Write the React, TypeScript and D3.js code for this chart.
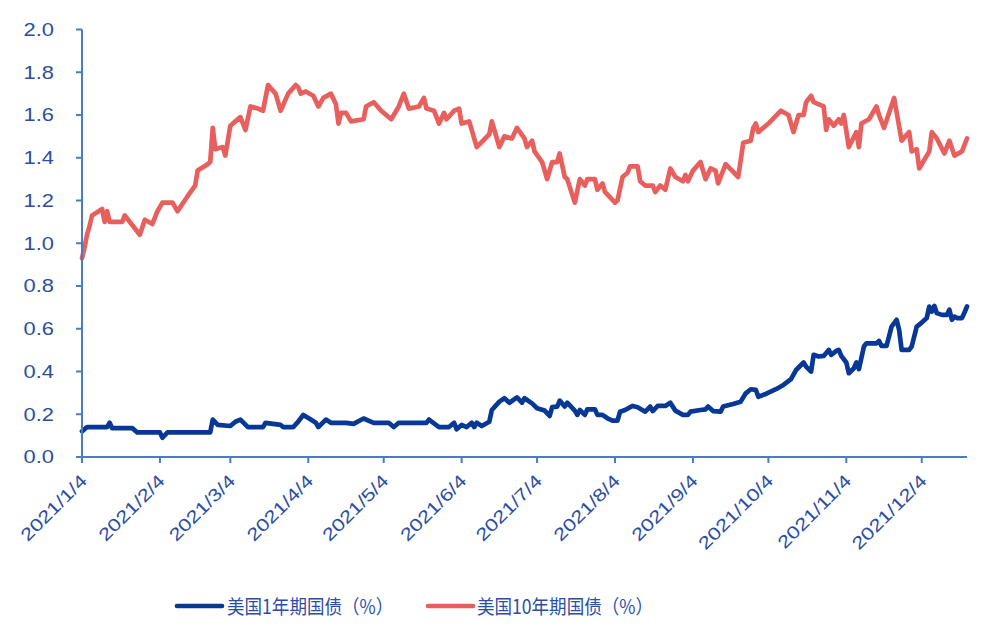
import React from "react";
import * as d3 from "d3";

const treasury10Y: [string, number][] = [
  ["2021-01-04", 0.93], ["2021-01-05", 0.98], ["2021-01-06", 1.04], ["2021-01-07", 1.08],
  ["2021-01-08", 1.13], ["2021-01-12", 1.16], ["2021-01-13", 1.10], ["2021-01-14", 1.15],
  ["2021-01-15", 1.10], ["2021-01-20", 1.10], ["2021-01-21", 1.13], ["2021-01-25", 1.07],
  ["2021-01-27", 1.04], ["2021-01-29", 1.11], ["2021-02-01", 1.09], ["2021-02-03", 1.15],
  ["2021-02-05", 1.19], ["2021-02-09", 1.19], ["2021-02-11", 1.15], ["2021-02-15", 1.22],
  ["2021-02-18", 1.27], ["2021-02-19", 1.34], ["2021-02-23", 1.37], ["2021-02-24", 1.38],
  ["2021-02-25", 1.54], ["2021-02-26", 1.44], ["2021-03-01", 1.45], ["2021-03-02", 1.41],
  ["2021-03-04", 1.55], ["2021-03-06", 1.57], ["2021-03-08", 1.59], ["2021-03-10", 1.53],
  ["2021-03-12", 1.64], ["2021-03-15", 1.63], ["2021-03-17", 1.62], ["2021-03-19", 1.74],
  ["2021-03-22", 1.70], ["2021-03-24", 1.62], ["2021-03-27", 1.70], ["2021-03-30", 1.74],
  ["2021-03-31", 1.73], ["2021-04-01", 1.70], ["2021-04-03", 1.71], ["2021-04-06", 1.69],
  ["2021-04-08", 1.64], ["2021-04-10", 1.68], ["2021-04-13", 1.70], ["2021-04-15", 1.65],
  ["2021-04-16", 1.56], ["2021-04-17", 1.61], ["2021-04-19", 1.61], ["2021-04-21", 1.57],
  ["2021-04-26", 1.58], ["2021-04-27", 1.64], ["2021-04-30", 1.66], ["2021-05-03", 1.62],
  ["2021-05-07", 1.58], ["2021-05-10", 1.64], ["2021-05-12", 1.70], ["2021-05-14", 1.63],
  ["2021-05-18", 1.64], ["2021-05-20", 1.68], ["2021-05-21", 1.63], ["2021-05-24", 1.62],
  ["2021-05-26", 1.56], ["2021-05-28", 1.61], ["2021-05-29", 1.58], ["2021-06-01", 1.62],
  ["2021-06-03", 1.63], ["2021-06-04", 1.56], ["2021-06-07", 1.57], ["2021-06-10", 1.45],
  ["2021-06-15", 1.51], ["2021-06-16", 1.57], ["2021-06-19", 1.45], ["2021-06-21", 1.50],
  ["2021-06-24", 1.49], ["2021-06-26", 1.54], ["2021-06-29", 1.49], ["2021-06-30", 1.45],
  ["2021-07-02", 1.48], ["2021-07-03", 1.43], ["2021-07-06", 1.38], ["2021-07-08", 1.30],
  ["2021-07-10", 1.38], ["2021-07-12", 1.38], ["2021-07-13", 1.42], ["2021-07-15", 1.31],
  ["2021-07-16", 1.30], ["2021-07-19", 1.19], ["2021-07-21", 1.30], ["2021-07-23", 1.27],
  ["2021-07-24", 1.30], ["2021-07-27", 1.30], ["2021-07-28", 1.25], ["2021-07-30", 1.28],
  ["2021-07-31", 1.24], ["2021-08-04", 1.19], ["2021-08-05", 1.20], ["2021-08-07", 1.31],
  ["2021-08-09", 1.33], ["2021-08-10", 1.36], ["2021-08-13", 1.36], ["2021-08-14", 1.29],
  ["2021-08-16", 1.27], ["2021-08-19", 1.27], ["2021-08-20", 1.24], ["2021-08-22", 1.27],
  ["2021-08-24", 1.25], ["2021-08-26", 1.35], ["2021-08-28", 1.31], ["2021-08-31", 1.29],
  ["2021-09-01", 1.32], ["2021-09-02", 1.29], ["2021-09-04", 1.34], ["2021-09-07", 1.38],
  ["2021-09-09", 1.30], ["2021-09-11", 1.35], ["2021-09-13", 1.34], ["2021-09-14", 1.28],
  ["2021-09-17", 1.37], ["2021-09-22", 1.31], ["2021-09-24", 1.47], ["2021-09-27", 1.48],
  ["2021-09-28", 1.54], ["2021-09-29", 1.56], ["2021-09-30", 1.52], ["2021-10-04", 1.56],
  ["2021-10-09", 1.62], ["2021-10-12", 1.60], ["2021-10-14", 1.52], ["2021-10-16", 1.60],
  ["2021-10-18", 1.60], ["2021-10-19", 1.66], ["2021-10-21", 1.69], ["2021-10-22", 1.66],
  ["2021-10-26", 1.64], ["2021-10-27", 1.53], ["2021-10-28", 1.58], ["2021-10-30", 1.55],
  ["2021-11-01", 1.58], ["2021-11-02", 1.56], ["2021-11-03", 1.60], ["2021-11-05", 1.45],
  ["2021-11-08", 1.52], ["2021-11-09", 1.45], ["2021-11-10", 1.56], ["2021-11-13", 1.58],
  ["2021-11-16", 1.64], ["2021-11-17", 1.60], ["2021-11-19", 1.54], ["2021-11-23", 1.68],
  ["2021-11-26", 1.48], ["2021-11-29", 1.52], ["2021-11-30", 1.43], ["2021-12-02", 1.44],
  ["2021-12-03", 1.35], ["2021-12-07", 1.43], ["2021-12-08", 1.52], ["2021-12-10", 1.49],
  ["2021-12-13", 1.42], ["2021-12-15", 1.48], ["2021-12-17", 1.41], ["2021-12-20", 1.43],
  ["2021-12-22", 1.49],
];

const treasury1Y: [string, number][] = [
  ["2021-01-04", 0.12], ["2021-01-06", 0.14], ["2021-01-14", 0.14], ["2021-01-15", 0.16],
  ["2021-01-16", 0.135], ["2021-01-24", 0.135], ["2021-01-26", 0.115], ["2021-02-04", 0.115],
  ["2021-02-05", 0.09], ["2021-02-07", 0.115], ["2021-02-24", 0.115], ["2021-02-25", 0.175],
  ["2021-02-27", 0.15], ["2021-03-04", 0.145], ["2021-03-06", 0.165], ["2021-03-08", 0.175],
  ["2021-03-11", 0.14], ["2021-03-17", 0.14], ["2021-03-18", 0.16], ["2021-03-24", 0.15],
  ["2021-03-25", 0.14], ["2021-03-29", 0.14], ["2021-03-31", 0.165], ["2021-04-02", 0.197],
  ["2021-04-05", 0.175], ["2021-04-07", 0.16], ["2021-04-08", 0.14], ["2021-04-11", 0.175],
  ["2021-04-13", 0.16], ["2021-04-19", 0.16], ["2021-04-22", 0.155], ["2021-04-26", 0.18],
  ["2021-04-30", 0.16], ["2021-05-06", 0.16], ["2021-05-08", 0.14], ["2021-05-10", 0.16],
  ["2021-05-21", 0.16], ["2021-05-22", 0.175], ["2021-05-26", 0.14], ["2021-05-30", 0.14],
  ["2021-06-01", 0.16], ["2021-06-02", 0.13], ["2021-06-04", 0.15], ["2021-06-06", 0.14],
  ["2021-06-08", 0.16], ["2021-06-09", 0.14], ["2021-06-10", 0.16], ["2021-06-12", 0.145],
  ["2021-06-15", 0.165], ["2021-06-16", 0.22], ["2021-06-19", 0.259], ["2021-06-21", 0.275],
  ["2021-06-23", 0.254], ["2021-06-26", 0.279], ["2021-06-28", 0.254], ["2021-06-29", 0.275],
  ["2021-07-02", 0.251], ["2021-07-04", 0.228], ["2021-07-07", 0.217], ["2021-07-09", 0.192],
  ["2021-07-10", 0.233], ["2021-07-12", 0.236], ["2021-07-13", 0.264], ["2021-07-15", 0.236],
  ["2021-07-16", 0.254], ["2021-07-19", 0.217], ["2021-07-20", 0.197], ["2021-07-21", 0.22],
  ["2021-07-23", 0.197], ["2021-07-24", 0.223], ["2021-07-27", 0.223], ["2021-07-28", 0.197],
  ["2021-07-30", 0.197], ["2021-08-01", 0.181], ["2021-08-03", 0.17], ["2021-08-05", 0.17],
  ["2021-08-06", 0.212], ["2021-08-08", 0.22], ["2021-08-11", 0.239], ["2021-08-13", 0.233],
  ["2021-08-16", 0.212], ["2021-08-18", 0.236], ["2021-08-19", 0.215], ["2021-08-21", 0.239],
  ["2021-08-24", 0.239], ["2021-08-26", 0.254], ["2021-08-28", 0.217], ["2021-08-31", 0.197],
  ["2021-09-02", 0.197], ["2021-09-03", 0.212], ["2021-09-07", 0.22], ["2021-09-09", 0.223],
  ["2021-09-10", 0.236], ["2021-09-12", 0.215], ["2021-09-15", 0.212], ["2021-09-16", 0.236],
  ["2021-09-20", 0.248], ["2021-09-23", 0.259], ["2021-09-25", 0.298], ["2021-09-27", 0.317],
  ["2021-09-29", 0.314], ["2021-09-30", 0.282], ["2021-10-03", 0.295], ["2021-10-07", 0.317],
  ["2021-10-10", 0.337], ["2021-10-13", 0.364], ["2021-10-15", 0.407], ["2021-10-18", 0.442],
  ["2021-10-19", 0.423], ["2021-10-21", 0.40], ["2021-10-22", 0.478], ["2021-10-24", 0.47],
  ["2021-10-26", 0.473], ["2021-10-28", 0.501], ["2021-10-29", 0.478], ["2021-10-31", 0.496],
  ["2021-11-01", 0.501], ["2021-11-02", 0.473], ["2021-11-04", 0.442], ["2021-11-05", 0.392],
  ["2021-11-07", 0.415], ["2021-11-08", 0.442], ["2021-11-09", 0.411], ["2021-11-11", 0.517],
  ["2021-11-12", 0.532], ["2021-11-16", 0.532], ["2021-11-17", 0.543], ["2021-11-18", 0.52],
  ["2021-11-20", 0.52], ["2021-11-22", 0.61], ["2021-11-24", 0.642], ["2021-11-25", 0.595],
  ["2021-11-26", 0.501], ["2021-11-29", 0.501], ["2021-11-30", 0.517], ["2021-12-02", 0.61],
  ["2021-12-04", 0.629], ["2021-12-06", 0.65], ["2021-12-07", 0.704], ["2021-12-08", 0.68],
  ["2021-12-09", 0.707], ["2021-12-10", 0.673], ["2021-12-12", 0.665], ["2021-12-14", 0.665],
  ["2021-12-15", 0.689], ["2021-12-16", 0.642], ["2021-12-17", 0.657], ["2021-12-18", 0.65],
  ["2021-12-20", 0.65], ["2021-12-21", 0.676], ["2021-12-22", 0.704],
];

const xTickDates = [
  "2021-01-04", "2021-02-04", "2021-03-04", "2021-04-04", "2021-05-04", "2021-06-04",
  "2021-07-04", "2021-08-04", "2021-09-04", "2021-10-04", "2021-11-04", "2021-12-04",
];
const xTickLabels = [
  "2021/1/4", "2021/2/4", "2021/3/4", "2021/4/4", "2021/5/4", "2021/6/4",
  "2021/7/4", "2021/8/4", "2021/9/4", "2021/10/4", "2021/11/4", "2021/12/4",
];
const yTicks = [0, 0.2, 0.4, 0.6, 0.8, 1.0, 1.2, 1.4, 1.6, 1.8, 2.0];
const seriesNames = ["美国1年期国债（%）", "美国10年期国债（%）"];
const xDomain = ["2021-01-04", "2021-12-22"];

const BLUE = "#083895";
const RED = "#E8605E";
const AXIS = "#4A7DC0";
const LABEL = "#2B4EA2";
const NUM_FONT = "'Liberation Sans', Arial, sans-serif";
const CJK_FONT = "'Noto Sans CJK SC', 'Noto Sans', sans-serif";

export default function App() {
  const parse = d3.timeParse("%Y-%m-%d");
  const x = d3
    .scaleTime()
    .domain(xDomain.map((d) => parse(d) as Date))
    .range([82, 967]);
  const y = d3.scaleLinear().domain([0, 2]).range([457, 29.5]);

  const line = d3
    .line<[string, number]>()
    .x((d) => x(parse(d[0]) as Date))
    .y((d) => y(d[1]));

  const fmt = d3.format(".1f");

  return (
    <svg
      width={981}
      height={630}
      style={{ position: "absolute", left: 0, top: 0, background: "#fff" }}
    >
      <rect x={0} y={0} width={981} height={630} fill="#fff" />
      <path
        d={line(treasury10Y) || ""}
        fill="none"
        stroke={RED}
        strokeWidth={4.7}
        strokeLinejoin="round"
        strokeLinecap="round"
      />
      <path
        d={line(treasury1Y) || ""}
        fill="none"
        stroke={BLUE}
        strokeWidth={4.7}
        strokeLinejoin="round"
        strokeLinecap="round"
      />

      <line x1={82} x2={82} y1={y(2)} y2={y(0)} stroke={AXIS} strokeWidth={2} />
      {yTicks.map((t) => (
        <g key={t}>
          <line x1={76} x2={82} y1={y(t)} y2={y(t)} stroke={AXIS} strokeWidth={2} />
          <text
            transform={`translate(54,${y(t)}) scale(1.25,1)`}
            textAnchor="end"
            dy="0.36em"
            fill={LABEL}
            fontFamily={NUM_FONT}
            fontSize={17.5}
          >
            {fmt(t)}
          </text>
        </g>
      ))}

      <line x1={82} x2={967} y1={y(0)} y2={y(0)} stroke={AXIS} strokeWidth={2} />
      {xTickDates.map((d, i) => {
        const tx = x(parse(d) as Date);
        return (
          <g key={d}>
            <line x1={tx} x2={tx} y1={y(0)} y2={y(0) + 6} stroke={AXIS} strokeWidth={2} />
            <text
              transform={`translate(${tx + 6},${y(0) + 25}) rotate(-45) scale(1.25,1)`}
              textAnchor="end"
              fill={LABEL}
              fontFamily={NUM_FONT}
              fontSize={17.5}
            >
              {xTickLabels[i]}
            </text>
          </g>
        );
      })}

      <line x1={177} x2={222} y1={606} y2={606} stroke={BLUE} strokeWidth={4.7} strokeLinecap="round" />
      <text
        transform="translate(227,614) scale(0.9,1)"
        fill={LABEL}
        fontFamily={CJK_FONT}
        fontSize={19.5}
      >
        {seriesNames[0]}
      </text>
      <line x1={428} x2={473} y1={606} y2={606} stroke={RED} strokeWidth={4.7} strokeLinecap="round" />
      <text
        transform="translate(477,614) scale(0.9,1)"
        fill={LABEL}
        fontFamily={CJK_FONT}
        fontSize={19.5}
      >
        {seriesNames[1]}
      </text>
    </svg>
  );
}
